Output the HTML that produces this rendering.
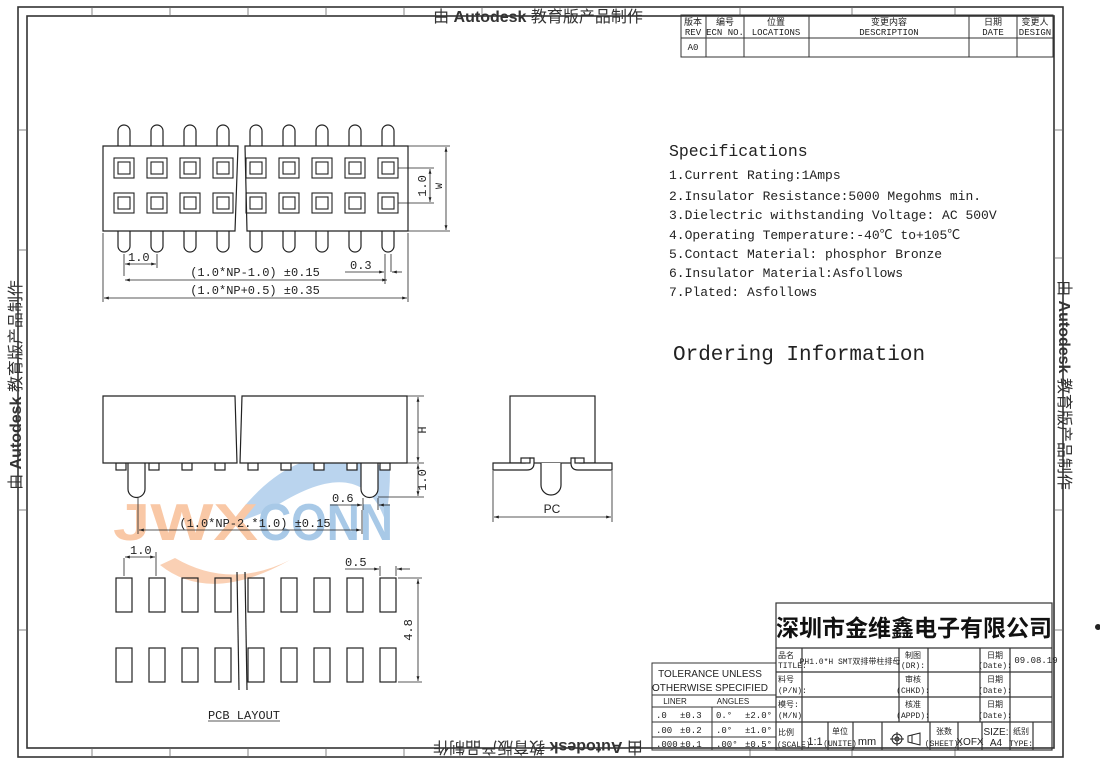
<!DOCTYPE html>
<html><head><meta charset="utf-8"><style>
html,body{margin:0;padding:0;background:#fff;}
svg{display:block;font-family:"Liberation Serif","Noto Serif CJK SC",serif;}
.m,.m text{font-family:"Liberation Mono","Noto Sans CJK SC",monospace;}
.s,.s text{font-family:"Liberation Sans","Noto Sans CJK SC",sans-serif;}
</style></head><body>
<svg width="1100" height="766" viewBox="0 0 1100 766" xmlns="http://www.w3.org/2000/svg" fill="#222">
<defs>
<marker id="a" viewBox="0 0 10 10" refX="10" refY="5" markerWidth="8" markerHeight="6" orient="auto-start-reverse"><path d="M0,2 L10,5 L0,8 z" fill="#222"/></marker>
</defs>
<rect x="18" y="7" width="1045" height="750" fill="none" stroke="#333" stroke-width="1.6"/>
<rect x="27" y="16" width="1027" height="732" fill="none" stroke="#333" stroke-width="1.6"/>
<g stroke="#666" stroke-width="0.8">
<line x1="92" y1="7" x2="92" y2="16"/><line x1="170" y1="7" x2="170" y2="16"/><line x1="248" y1="7" x2="248" y2="16"/><line x1="326" y1="7" x2="326" y2="16"/><line x1="404" y1="7" x2="404" y2="16"/><line x1="482" y1="7" x2="482" y2="16"/><line x1="560" y1="7" x2="560" y2="16"/><line x1="740" y1="7" x2="740" y2="16"/><line x1="852" y1="7" x2="852" y2="16"/><line x1="955" y1="7" x2="955" y2="16"/>
<line x1="92" y1="748" x2="92" y2="757"/><line x1="170" y1="748" x2="170" y2="757"/><line x1="248" y1="748" x2="248" y2="757"/><line x1="326" y1="748" x2="326" y2="757"/><line x1="404" y1="748" x2="404" y2="757"/><line x1="750" y1="748" x2="750" y2="757"/><line x1="852" y1="748" x2="852" y2="757"/><line x1="955" y1="748" x2="955" y2="757"/>
<line x1="18" y1="130" x2="27" y2="130"/><line x1="18" y1="250" x2="27" y2="250"/><line x1="18" y1="510" x2="27" y2="510"/><line x1="18" y1="630" x2="27" y2="630"/>
<line x1="1054" y1="130" x2="1063" y2="130"/><line x1="1054" y1="258" x2="1063" y2="258"/><line x1="1054" y1="510" x2="1063" y2="510"/><line x1="1054" y1="630" x2="1063" y2="630"/>
</g>
<g class="s" fill="#333" font-size="16">
<text x="538" y="22" text-anchor="middle">由 <tspan font-weight="bold">Autodesk</tspan> 教育版产品制作</text>
<text transform="translate(538,742) rotate(180)" text-anchor="middle">由 <tspan font-weight="bold">Autodesk</tspan> 教育版产品制作</text>
<text transform="translate(21,385) rotate(-90)" text-anchor="middle">由 <tspan font-weight="bold">Autodesk</tspan> 教育版产品制作</text>
<text transform="translate(1059,385) rotate(90)" text-anchor="middle">由 <tspan font-weight="bold">Autodesk</tspan> 教育版产品制作</text>
</g>

<g stroke="#333" stroke-width="1" fill="none">
<rect x="681" y="15" width="372" height="42"/>
<line x1="681" y1="38" x2="1053" y2="38"/>
<line x1="706" y1="15" x2="706" y2="57"/><line x1="744" y1="15" x2="744" y2="57"/><line x1="809" y1="15" x2="809" y2="57"/><line x1="969" y1="15" x2="969" y2="57"/><line x1="1017" y1="15" x2="1017" y2="57"/>
</g>
<g font-size="9" text-anchor="middle" class="m">
<text x="693" y="25">版本</text><text x="693" y="35">REV</text>
<text x="725" y="25">编号</text><text x="725" y="35">ECN NO.</text>
<text x="776" y="25">位置</text><text x="776" y="35">LOCATIONS</text>
<text x="889" y="25">变更内容</text><text x="889" y="35">DESCRIPTION</text>
<text x="993" y="25">日期</text><text x="993" y="35">DATE</text>
<text x="1035" y="25">变更人</text><text x="1035" y="35">DESIGN</text>
<text x="693" y="50">A0</text>
</g>

<!-- watermark logo -->
<g opacity="0.6">
<path d="M230,525 Q300,425 390,470 Q390,500 385,520 Q360,450 270,510 Q245,520 230,525 z" fill="#8db9e3"/>
<path d="M160,565 Q210,605 290,560 Q230,590 175,558 z" fill="#f7b283"/>
<g class="s" font-size="52" font-weight="bold">
<text x="113" y="540" fill="#f6a46c" textLength="145" lengthAdjust="spacingAndGlyphs">JWX</text>
<text x="258" y="540" fill="#6fa6d8" textLength="135" lengthAdjust="spacingAndGlyphs">CONN</text>
</g>
</g>

<!-- TOP VIEW -->
<g stroke="#222" stroke-width="1.2" fill="#fff">
<rect x="118" y="125" width="12" height="30" rx="6"/><rect x="151" y="125" width="12" height="30" rx="6"/><rect x="184" y="125" width="12" height="30" rx="6"/><rect x="217" y="125" width="12" height="30" rx="6"/><rect x="250" y="125" width="12" height="30" rx="6"/><rect x="283" y="125" width="12" height="30" rx="6"/><rect x="316" y="125" width="12" height="30" rx="6"/><rect x="349" y="125" width="12" height="30" rx="6"/><rect x="382" y="125" width="12" height="30" rx="6"/>
<rect x="118" y="222" width="12" height="30" rx="6"/><rect x="151" y="222" width="12" height="30" rx="6"/><rect x="184" y="222" width="12" height="30" rx="6"/><rect x="217" y="222" width="12" height="30" rx="6"/><rect x="250" y="222" width="12" height="30" rx="6"/><rect x="283" y="222" width="12" height="30" rx="6"/><rect x="316" y="222" width="12" height="30" rx="6"/><rect x="349" y="222" width="12" height="30" rx="6"/><rect x="382" y="222" width="12" height="30" rx="6"/>
<path d="M103,146 L238,146 L235,231 L103,231 z"/>
<path d="M245,146 L408,146 L408,231 L247,231 z"/>
</g>
<g stroke="#222" stroke-width="1.1" fill="none">
<rect x="114" y="158" width="20" height="20"/><rect x="147" y="158" width="20" height="20"/><rect x="180" y="158" width="20" height="20"/><rect x="213" y="158" width="20" height="20"/><rect x="246" y="158" width="20" height="20"/><rect x="279" y="158" width="20" height="20"/><rect x="312" y="158" width="20" height="20"/><rect x="345" y="158" width="20" height="20"/><rect x="378" y="158" width="20" height="20"/>
<rect x="114" y="193" width="20" height="20"/><rect x="147" y="193" width="20" height="20"/><rect x="180" y="193" width="20" height="20"/><rect x="213" y="193" width="20" height="20"/><rect x="246" y="193" width="20" height="20"/><rect x="279" y="193" width="20" height="20"/><rect x="312" y="193" width="20" height="20"/><rect x="345" y="193" width="20" height="20"/><rect x="378" y="193" width="20" height="20"/>
<rect x="118" y="162" width="12" height="12"/><rect x="151" y="162" width="12" height="12"/><rect x="184" y="162" width="12" height="12"/><rect x="217" y="162" width="12" height="12"/><rect x="250" y="162" width="12" height="12"/><rect x="283" y="162" width="12" height="12"/><rect x="316" y="162" width="12" height="12"/><rect x="349" y="162" width="12" height="12"/><rect x="382" y="162" width="12" height="12"/>
<rect x="118" y="197" width="12" height="12"/><rect x="151" y="197" width="12" height="12"/><rect x="184" y="197" width="12" height="12"/><rect x="217" y="197" width="12" height="12"/><rect x="250" y="197" width="12" height="12"/><rect x="283" y="197" width="12" height="12"/><rect x="316" y="197" width="12" height="12"/><rect x="349" y="197" width="12" height="12"/><rect x="382" y="197" width="12" height="12"/>
</g>
<g stroke="#222" stroke-width="0.8" fill="none">
<line x1="408" y1="146" x2="450" y2="146"/><line x1="408" y1="231" x2="450" y2="231"/>
<line x1="446" y1="147" x2="446" y2="230" marker-start="url(#a)" marker-end="url(#a)"/>
<line x1="398" y1="168" x2="434" y2="168"/><line x1="398" y1="203" x2="434" y2="203"/>
<line x1="430" y1="169" x2="430" y2="202" marker-start="url(#a)" marker-end="url(#a)"/>
<line x1="124" y1="254" x2="124" y2="276"/><line x1="157" y1="254" x2="157" y2="268"/>
<line x1="125" y1="264" x2="156" y2="264" marker-start="url(#a)" marker-end="url(#a)"/>
<line x1="125" y1="280" x2="387" y2="280" marker-start="url(#a)" marker-end="url(#a)"/>
<line x1="385" y1="254" x2="385" y2="284"/><line x1="391" y1="254" x2="391" y2="272"/>
<line x1="345" y1="272" x2="384" y2="272" marker-end="url(#a)"/><line x1="402" y1="272" x2="392" y2="272" marker-end="url(#a)"/>
<line x1="103" y1="233" x2="103" y2="302"/><line x1="408" y1="233" x2="408" y2="302"/>
<line x1="104" y1="298" x2="407" y2="298" marker-start="url(#a)" marker-end="url(#a)"/>
</g>
<g font-size="12" class="m">
<text x="128" y="261">1.0</text>
<text x="350" y="269">0.3</text>
<text x="255" y="276" text-anchor="middle">(1.0*NP-1.0) ±0.15</text>
<text x="255" y="294" text-anchor="middle">(1.0*NP+0.5) ±0.35</text>
<text transform="translate(426,186) rotate(-90)" text-anchor="middle">1.0</text>
<text transform="translate(442,186) rotate(-90)" text-anchor="middle" font-size="10">W</text>
</g>

<!-- SIDE VIEW -->
<g stroke="#222" stroke-width="1.2" fill="#fff">
<rect x="116" y="463" width="10" height="7"/><rect x="149" y="463" width="10" height="7"/><rect x="182" y="463" width="10" height="7"/><rect x="215" y="463" width="10" height="7"/><rect x="248" y="463" width="10" height="7"/><rect x="281" y="463" width="10" height="7"/><rect x="314" y="463" width="10" height="7"/><rect x="347" y="463" width="10" height="7"/><rect x="380" y="463" width="10" height="7"/>
<path d="M128,463 L128,489 A8.5,8.5 0 0 0 145,489 L145,463"/>
<path d="M361,463 L361,489 A8.5,8.5 0 0 0 378,489 L378,463"/>
<path d="M103,396 L235,396 L237,463 L103,463 z"/>
<path d="M242,396 L407,396 L407,463 L240,463 z"/>
</g>
<g stroke="#222" stroke-width="0.8" fill="none">
<line x1="407" y1="396" x2="424" y2="396"/><line x1="407" y1="463" x2="424" y2="463"/><line x1="378" y1="497" x2="424" y2="497"/>
<line x1="418" y1="397" x2="418" y2="462" marker-start="url(#a)" marker-end="url(#a)"/>
<line x1="418" y1="464" x2="418" y2="496" marker-start="url(#a)" marker-end="url(#a)"/>
<line x1="363" y1="498" x2="363" y2="510"/><line x1="378" y1="498" x2="378" y2="510"/>
<line x1="330" y1="505" x2="362" y2="505" marker-end="url(#a)"/><line x1="390" y1="505" x2="379" y2="505" marker-end="url(#a)"/>
<line x1="138" y1="498" x2="138" y2="534"/><line x1="362" y1="510" x2="362" y2="534"/>
<line x1="139" y1="530" x2="361" y2="530" marker-start="url(#a)" marker-end="url(#a)"/>
</g>
<g font-size="12" class="m">
<text x="332" y="502">0.6</text>
<text x="255" y="527" text-anchor="middle">(1.0*NP-2.*1.0) ±0.15</text>
<text transform="translate(426,430) rotate(-90)" text-anchor="middle">H</text>
<text transform="translate(426,480) rotate(-90)" text-anchor="middle">1.0</text>
</g>

<!-- PC VIEW -->
<g stroke="#222" stroke-width="1.2" fill="#fff">
<rect x="510" y="396" width="85" height="67"/>
<path d="M493,463 L525,463 Q530,463 530,458 L534,458 L534,463 Q534,470 527,470 L493,470 z"/>
<path d="M612,463 L580,463 Q575,463 575,458 L571,458 L571,463 Q571,470 578,470 L612,470 z"/>
<rect x="521" y="458" width="9" height="5"/><rect x="575" y="458" width="9" height="5"/>
<path d="M541,463 L541,485 A10,10 0 0 0 561,485 L561,463"/>
</g>
<g stroke="#222" stroke-width="0.8" fill="none">
<line x1="493" y1="471" x2="493" y2="522"/><line x1="612" y1="471" x2="612" y2="522"/>
<line x1="494" y1="517" x2="611" y2="517" marker-start="url(#a)" marker-end="url(#a)"/>
</g>
<text x="552" y="513" font-size="12" class="s" text-anchor="middle">PC</text>

<!-- PCB LAYOUT -->
<g stroke="#222" stroke-width="1.2" fill="none">
<rect x="116" y="578" width="16" height="34"/><rect x="149" y="578" width="16" height="34"/><rect x="182" y="578" width="16" height="34"/><rect x="215" y="578" width="16" height="34"/><rect x="248" y="578" width="16" height="34"/><rect x="281" y="578" width="16" height="34"/><rect x="314" y="578" width="16" height="34"/><rect x="347" y="578" width="16" height="34"/><rect x="380" y="578" width="16" height="34"/>
<rect x="116" y="648" width="16" height="34"/><rect x="149" y="648" width="16" height="34"/><rect x="182" y="648" width="16" height="34"/><rect x="215" y="648" width="16" height="34"/><rect x="248" y="648" width="16" height="34"/><rect x="281" y="648" width="16" height="34"/><rect x="314" y="648" width="16" height="34"/><rect x="347" y="648" width="16" height="34"/><rect x="380" y="648" width="16" height="34"/>
<line x1="237" y1="572" x2="239" y2="690"/><line x1="245" y1="572" x2="247" y2="690"/>
</g>
<g stroke="#222" stroke-width="0.8" fill="none">
<line x1="124" y1="558" x2="124" y2="576"/><line x1="156" y1="552" x2="156" y2="576"/>
<line x1="125" y1="557" x2="155" y2="557" marker-start="url(#a)" marker-end="url(#a)"/>
<line x1="380" y1="566" x2="380" y2="576"/><line x1="396" y1="566" x2="396" y2="576"/>
<line x1="345" y1="569" x2="379" y2="569" marker-end="url(#a)"/><line x1="410" y1="569" x2="397" y2="569" marker-end="url(#a)"/>
<line x1="398" y1="578" x2="422" y2="578"/><line x1="398" y1="682" x2="422" y2="682"/>
<line x1="418" y1="579" x2="418" y2="681" marker-start="url(#a)" marker-end="url(#a)"/>
<line x1="208" y1="721" x2="280" y2="721"/>
</g>
<g font-size="12" class="m">
<text x="130" y="554">1.0</text>
<text x="345" y="566">0.5</text>
<text transform="translate(412,630) rotate(-90)" text-anchor="middle">4.8</text>
<text x="244" y="719" text-anchor="middle">PCB LAYOUT</text>
</g>

<!-- Specs -->
<g class="m">
<text x="669" y="156" font-size="16.5">Specifications</text>
<text x="669" y="179" font-size="13">1.Current Rating:1Amps</text>
<text x="669" y="200" font-size="13">2.Insulator Resistance:5000 Megohms min.</text>
<text x="669" y="219" font-size="13">3.Dielectric withstanding Voltage: AC 500V</text>
<text x="669" y="239" font-size="13">4.Operating Temperature:-40℃ to+105℃</text>
<text x="669" y="258" font-size="13">5.Contact Material: phosphor Bronze</text>
<text x="669" y="277" font-size="13">6.Insulator Material:Asfollows</text>
<text x="669" y="296" font-size="13">7.Plated: Asfollows</text>
<text x="673" y="360" font-size="21">Ordering Information</text>
</g>

<!-- Tolerance block -->
<g stroke="#333" stroke-width="1" fill="none">
<rect x="652" y="663" width="124" height="87"/>
<line x1="652" y1="695" x2="776" y2="695"/><line x1="652" y1="707" x2="776" y2="707"/><line x1="652" y1="722" x2="776" y2="722"/><line x1="652" y1="737" x2="776" y2="737"/>
<line x1="712" y1="707" x2="712" y2="750"/>
</g>
<g font-size="10" class="s">
<text x="710" y="677" text-anchor="middle">TOLERANCE UNLESS</text>
<text x="710" y="691" text-anchor="middle">OTHERWISE SPECIFIED</text>
<text x="675" y="704" text-anchor="middle" font-size="8">LINER</text>
<text x="733" y="704" text-anchor="middle" font-size="8">ANGLES</text>
</g>
<g font-size="9" class="m">
<text x="656" y="718">.0</text><text x="680" y="718">±0.3</text><text x="716" y="718">0.°</text><text x="745" y="718">±2.0°</text>
<text x="656" y="733">.00</text><text x="680" y="733">±0.2</text><text x="716" y="733">.0°</text><text x="745" y="733">±1.0°</text>
<text x="656" y="747">.000</text><text x="680" y="747">±0.1</text><text x="716" y="747">.00°</text><text x="745" y="747">±0.5°</text>
</g>

<!-- Title block -->
<g stroke="#333" stroke-width="1.2" fill="none">
<rect x="776" y="603" width="276" height="147"/>
<line x1="776" y1="648" x2="1052" y2="648"/><line x1="776" y1="672" x2="1052" y2="672"/><line x1="776" y1="697" x2="1052" y2="697"/><line x1="776" y1="722" x2="1052" y2="722"/>
<line x1="802" y1="648" x2="802" y2="750"/><line x1="899" y1="648" x2="899" y2="722"/><line x1="928" y1="648" x2="928" y2="722"/><line x1="980" y1="648" x2="980" y2="722"/><line x1="1010" y1="648" x2="1010" y2="722"/>
<line x1="828" y1="722" x2="828" y2="750"/><line x1="853" y1="722" x2="853" y2="750"/><line x1="882" y1="722" x2="882" y2="750"/><line x1="930" y1="722" x2="930" y2="750"/><line x1="958" y1="722" x2="958" y2="750"/><line x1="982" y1="722" x2="982" y2="750"/><line x1="1010" y1="722" x2="1010" y2="750"/><line x1="1033" y1="722" x2="1033" y2="750"/>
</g>
<text x="914" y="636" font-size="23" font-weight="bold" class="s" text-anchor="middle" fill="#111">深圳市金维鑫电子有限公司</text>
<g font-size="8" class="m">
<text x="778" y="658">品名</text><text x="778" y="668">TITLE:</text>
<text x="778" y="682">料号</text><text x="778" y="693">(P/N):</text>
<text x="778" y="707">模号:</text><text x="778" y="718">(M/N)</text>
<text x="778" y="735">比例</text><text x="777" y="747">(SCALE)</text>
<text x="850" y="664" text-anchor="middle">PH1.0*H SMT双排带柱排母</text>
<text x="913" y="658" text-anchor="middle">制图</text><text x="913" y="668" text-anchor="middle">(DR):</text>
<text x="913" y="682" text-anchor="middle">审核</text><text x="913" y="693" text-anchor="middle">(CHKD):</text>
<text x="913" y="707" text-anchor="middle">核准</text><text x="913" y="718" text-anchor="middle">(APPD):</text>
<text x="995" y="658" text-anchor="middle">日期</text><text x="995" y="668" text-anchor="middle">(Date):</text>
<text x="995" y="682" text-anchor="middle">日期</text><text x="995" y="693" text-anchor="middle">(Date):</text>
<text x="995" y="707" text-anchor="middle">日期</text><text x="995" y="718" text-anchor="middle">(Date):</text>
<text x="1036" y="663" text-anchor="middle" font-size="9">09.08.19</text>
<text x="840" y="734" text-anchor="middle">单位</text><text x="840" y="746" text-anchor="middle">(UNITE)</text>
<text x="944" y="734" text-anchor="middle">张数</text><text x="944" y="746" text-anchor="middle">(SHEET):</text>
<text x="1021" y="734" text-anchor="middle">纸别</text><text x="1021" y="746" text-anchor="middle">TYPE:</text>
</g>
<g font-size="11" class="s">
<text x="815" y="745" text-anchor="middle">1:1</text>
<text x="867" y="745" text-anchor="middle">mm</text>
<text x="970" y="745" text-anchor="middle" font-size="10">XOFX</text>
<text x="996" y="735" text-anchor="middle" font-size="10">SIZE:</text>
<text x="996" y="746" text-anchor="middle" font-size="10">A4</text>
</g>
<g stroke="#222" stroke-width="1" fill="none">
<circle cx="897" cy="739" r="5"/><circle cx="897" cy="739" r="2"/><line x1="890" y1="739" x2="904" y2="739"/><line x1="897" y1="732" x2="897" y2="746"/>
<path d="M908,736 L920,733 L920,745 L908,742 z"/><line x1="912" y1="735" x2="912" y2="743"/>
</g>
<circle cx="1098" cy="627" r="3" fill="#222"/>
</svg>
</body></html>
